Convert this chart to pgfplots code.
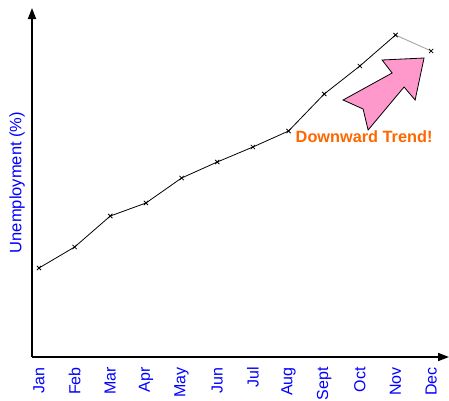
\documentclass[border=0pt]{standalone}
\usepackage{pgfplots}
\pgfplotsset{compat=1.18}
\usepackage{fontspec}
\setmainfont{Liberation Sans}
\usetikzlibrary{arrows.meta}
\definecolor{arrowpink}{HTML}{FF99CC}
\definecolor{trendorange}{HTML}{FF6600}
\begin{document}
\begin{tikzpicture}[x=1pt,y=1pt]
\path[use as bounding box] (-32,-43) rectangle (417,357);
\begin{axis}[
  at={(0,0)}, anchor=south west,
  scale only axis,
  width=417pt, height=349pt,
  xmin=-0.196, xmax=11.50,
  ymin=0, ymax=349,
  axis x line=bottom, axis y line=left,
  axis line style={line width=1.7pt, -{Triangle[length=11pt,width=8pt]}},
  xtick={0,...,11},
  xticklabels={Jan,Feb,Mar,Apr,May,Jun,Jul,Aug,Sept,Oct,Nov,Dec},
  ytick=\empty,
  major tick length=0pt,
  xticklabel style={rotate=90, anchor=east, font=\fontsize{16}{16}\selectfont, text=blue, inner sep=0pt, xshift=-10pt},
  every axis y label/.style={at={(axis description cs:0,0.5)}, xshift=-15pt, rotate=90, anchor=center, font=\fontsize{16.5}{16.5}\selectfont, text=blue},
  ylabel={Unemployment (\%)},
  clip=false,
]
\addplot[gray!70, line width=0.9pt, no marks] coordinates {(10,322) (11,306)};
\addplot[black, line width=0.8pt, mark=x, mark size=3pt, mark options={line width=0.8pt}] coordinates {
  (0,89) (1,110) (2,141) (3,154) (4,179) (5,195) (6,210) (7,226) (8,263) (9,291) (10,322)};
\addplot[only marks, black, mark=x, mark size=3pt, mark options={line width=0.8pt}] coordinates {(11,306)};
\draw[fill=arrowpink, draw=black, line width=0.8pt] (axis cs:9.624,297) -- (axis cs:10.80,299) -- (axis cs:10.55,257) -- (axis cs:10.24,270) -- (axis cs:9.231,227) -- (axis cs:9.091,248) -- (axis cs:8.530,257) -- (axis cs:9.905,284) -- cycle;
\node[text=trendorange, font=\bfseries\fontsize{16.3}{16.3}\selectfont] at (axis cs:9.119,220) {Downward Trend!};
\end{axis}
\end{tikzpicture}
\end{document}
